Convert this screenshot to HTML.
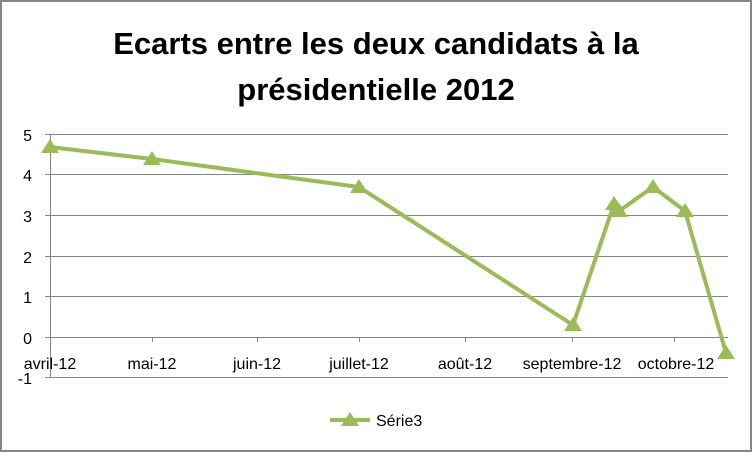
<!DOCTYPE html>
<html><head><meta charset="utf-8"><style>
body{margin:0;background:#fff}
svg{display:block;font-family:"Liberation Sans",sans-serif}
</style></head><body>
<svg width="752" height="452" viewBox="0 0 752 452">
<rect x="1" y="1" width="750" height="450" fill="#fff" stroke="#868686" stroke-width="2"/>
<text x="376" y="54" font-size="31" font-weight="bold" text-anchor="middle" fill="#000">Ecarts entre les deux candidats à la</text>
<text x="376" y="100" font-size="31" font-weight="bold" text-anchor="middle" fill="#000">présidentielle 2012</text>
<g stroke="#868686" stroke-width="1">
<line x1="45" x2="728" y1="134.5" y2="134.5"/>
<line x1="45" x2="728" y1="174.5" y2="174.5"/>
<line x1="45" x2="728" y1="215.5" y2="215.5"/>
<line x1="45" x2="728" y1="256.5" y2="256.5"/>
<line x1="45" x2="728" y1="296.5" y2="296.5"/>
<line x1="45" x2="728" y1="337.5" y2="337.5"/>
<line x1="45" x2="728" y1="377.5" y2="377.5"/>
<line x1="50.5" x2="50.5" y1="134" y2="378"/>
<line x1="152.5" x2="152.5" y1="337" y2="342"/>
<line x1="257.5" x2="257.5" y1="337" y2="342"/>
<line x1="359.5" x2="359.5" y1="337" y2="342"/>
<line x1="465.5" x2="465.5" y1="337" y2="342"/>
<line x1="572.5" x2="572.5" y1="337" y2="342"/>
<line x1="674.5" x2="674.5" y1="337" y2="342"/>
</g>
<g font-size="16" fill="#000" text-anchor="end">
<text x="32" y="141">5</text><text x="32" y="181">4</text><text x="32" y="222">3</text>
<text x="32" y="263">2</text><text x="32" y="303">1</text><text x="32" y="344">0</text><text x="32" y="384">-1</text>
</g>
<g font-size="16" fill="#000" text-anchor="middle">
<text x="50" y="369">avril-12</text><text x="152" y="369">mai-12</text><text x="257" y="369">juin-12</text>
<text x="359" y="369">juillet-12</text><text x="465" y="369">août-12</text><text x="572" y="369">septembre-12</text>
<text x="676" y="369">octobre-12</text>
</g>
<polyline fill="none" stroke="#9bbb59" stroke-width="4" stroke-linejoin="round" points="50,147 152,159 359,187 573,325 614,204 619,211 653,187 685,211 726,353"/>
<g fill="#9bbb59">
<path d="M50,139l9,14h-18z"/><path d="M152,151l9,14h-18z"/><path d="M359,179l9,14h-18z"/>
<path d="M573,317l9,14h-18z"/><path d="M614,196l9,14h-18z"/><path d="M619,203l9,14h-18z"/>
<path d="M653,179l9,14h-18z"/><path d="M685,203l9,14h-18z"/><path d="M726,345l9,14h-18z"/>
</g>
<line x1="330" x2="370" y1="420" y2="420" stroke="#9bbb59" stroke-width="4"/>
<path d="M350,412l9,14h-18z" fill="#9bbb59"/>
<text x="376" y="426" font-size="16" fill="#000">Série3</text>
</svg>
</body></html>
